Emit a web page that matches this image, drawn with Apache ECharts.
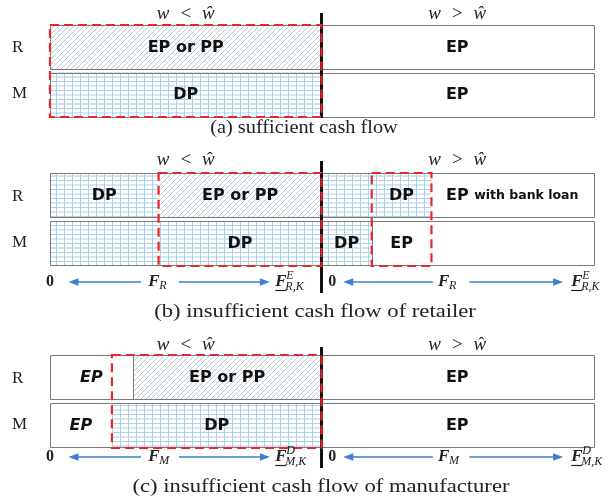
<!DOCTYPE html>
<html>
<head>
<meta charset="utf-8">
<script src="https://cdn.jsdelivr.net/npm/echarts@6/dist/echarts.min.js"></script>
<style>
  html, body { margin: 0; padding: 0; background: #ffffff; }
  #chart { width: 610px; height: 498px; }
</style>
</head>
<body>
<div id="chart"></div>
<script>
// Rows of every panel, listed bottom to top on the category axis
const rowNames = ['M', 'R'];
// Relation shown above each half of the w axis
const halfHeadings = ['<', '>'];
const captions = [
  '(a) sufficient cash flow',
  '(b) insufficient cash flow of retailer',
  '(c) insufficient cash flow of manufacturer'
];

// Strategy segments: [row, from, to, fill, label]
// 0..1 is the w < ŵ half, 1..2 the w > ŵ half
const segmentsA = [
  ['R', 0, 1, 'hatch', 'EP or PP'],
  ['M', 0, 1, 'grid', 'DP'],
  ['R', 1, 2, 'plain', 'EP'],
  ['M', 1, 2, 'plain', 'EP']
];
const segmentsB = [
  ['R', 0, 0.4, 'grid', 'DP'],
  ['R', 0.4, 1, 'hatch', 'EP or PP'],
  ['R', 1, 1.185, 'grid', ''],
  ['R', 1.185, 1.405, 'grid', 'DP'],
  ['R', 1.405, 2, 'plain', 'EP|with bank loan'],
  ['M', 0, 0.4, 'grid', ''],
  ['M', 0.4, 1, 'grid', 'DP'],
  ['M', 1, 1.185, 'grid', 'DP'],
  ['M', 1.185, 1.405, 'plain', 'EP'],
  ['M', 1.405, 2, 'plain', '']
];
const segmentsC = [
  ['R', 0, 0.305, 'plain', 'EP'],
  ['R', 0.305, 1, 'hatch', 'EP or PP'],
  ['R', 1, 2, 'plain', 'EP'],
  ['M', 0, 0.228, 'plain', 'EP'],
  ['M', 0.228, 1, 'grid', 'DP'],
  ['M', 1, 2, 'plain', 'EP']
];
// Segments whose label is set in oblique type
const obliqueC = [0, 3];

// Regions framed by the red dashed outline: [from, to]
const dashedA = [[0, 1]];
const dashedB = [[0.4, 1], [1.185, 1.405]];
const dashedC = [[0.228, 1]];

// Solid separators inside a row: [row, at]
const dividersB = [['M', 1.185]];
const dividersC = [['R', 0.305]];

// Threshold symbols under panels (b) and (c): [subscript, superscript]
const scaleB = ['R', 'E'];
const scaleC = ['M', 'D'];

// ---- layout and styling ----
const GAP = 1.5;
const SERIF = '"Liberation Serif", "DejaVu Serif", serif';
const SANS = '"DejaVu Sans", "Liberation Sans", sans-serif';
const RED = '#e8262c';
const BLUE = '#3d7fd2';
const GRAY = '#7a7a7a';

const panels = [
  { segments: segmentsA, dashed: dashedA, dividers: [], scale: null, oblique: [],
    top: 25, height: 92, lineUp: 12, lineDown: 1, headingDy: -11,
    captionX: 304, captionY: 128, captionStretch: 1.07 },
  { segments: segmentsB, dashed: dashedB, dividers: dividersB, scale: scaleB, oblique: [],
    top: 173, height: 93, lineUp: 12, lineDown: 27, headingDy: -13, scaleDy: 16,
    captionX: 315, captionY: 312, captionStretch: 1.19 },
  { segments: segmentsC, dashed: dashedC, dividers: dividersC, scale: scaleC, oblique: obliqueC,
    top: 355, height: 93, lineUp: 8, lineDown: 20, headingDy: -10, scaleDy: 9,
    captionX: 321, captionY: 487, captionStretch: 1.19 }
];

// Placement of the scale annotation as fractions of each half
const scaleLayout = [
  { zero: 0.0, head1: 0.068, tail1: 0.335, f: 0.395, tail2: 0.475, head2: 0.81, end: 0.83 },
  { zero: 0.04, head1: 0.08, tail1: 0.41, f: 0.462, tail2: 0.545, head2: 0.89, end: 0.92 }
];

function makePattern(kind) {
  const c = document.createElement('canvas');
  if (kind === 'hatch') {
    c.width = 5; c.height = 5;
    const g = c.getContext('2d');
    g.fillStyle = '#ffffff'; g.fillRect(0, 0, 5, 5);
    g.strokeStyle = '#b3c5d1'; g.lineWidth = 0.9;
    g.beginPath();
    g.moveTo(-1, 6); g.lineTo(6, -1);
    g.moveTo(-6, 6); g.lineTo(1, -1);
    g.moveTo(4, 6); g.lineTo(11, -1);
    g.stroke();
  } else {
    c.width = 8; c.height = 9;
    const g = c.getContext('2d');
    g.fillStyle = '#ffffff'; g.fillRect(0, 0, 8, 9);
    g.fillStyle = '#a9d0e6';
    g.fillRect(0, 0, 8, 1);
    g.fillRect(0, 4.5, 8, 1);
    g.fillRect(0, 0, 1, 9);
  }
  return { image: c, repeat: 'repeat' };
}
const fills = { hatch: makePattern('hatch'), grid: makePattern('grid'), plain: '#ffffff' };

// Rectangle of one row between two x values, leaving a small gap between rows
function bandRect(api, x0, x1, row) {
  const p0 = api.coord([x0, row]);
  const p1 = api.coord([x1, row]);
  const band = api.size([0, 1])[1];
  let top = p0[1] - band / 2, bottom = p0[1] + band / 2;
  if (row === 1) bottom -= GAP; else top += GAP;
  return { x: p0[0], y: top, width: p1[0] - p0[0], height: bottom - top };
}
function panelTopBottom(api) {
  const band = api.size([0, 1])[1];
  return [api.coord([0, 1])[1] - band / 2, api.coord([0, 0])[1] + band / 2];
}

const grids = [], xAxes = [], yAxes = [], series = [];

panels.forEach((p, pi) => {
  grids.push({ left: 50, right: 17, top: p.top, height: p.height });
  xAxes.push({ type: 'value', gridIndex: pi, min: 0, max: 2, show: false });
  yAxes.push({
    type: 'category', gridIndex: pi, data: rowNames,
    axisLine: { show: false }, axisTick: { show: false }, splitLine: { show: false },
    axisLabel: { show: true, align: 'left', margin: 38, fontFamily: SERIF, fontSize: 17, color: '#222' }
  });
  const base = { type: 'custom', xAxisIndex: pi, yAxisIndex: pi, silent: true, animation: false };

  // pattern fills
  series.push(Object.assign({}, base, {
    z: 1,
    encode: { x: [0, 1], y: 2 },
    data: p.segments.map(s => [s[1], s[2], rowNames.indexOf(s[0])]),
    renderItem: (params, api) => {
      const seg = p.segments[params.dataIndex];
      return { type: 'rect', shape: bandRect(api, api.value(0), api.value(1), api.value(2)),
               style: { fill: fills[seg[3]], stroke: null } };
    }
  }));

  // row outlines for each half
  const boxes = [];
  rowNames.forEach((r, ri) => { boxes.push([0, 1, ri]); boxes.push([1, 2, ri]); });
  series.push(Object.assign({}, base, {
    z: 2,
    encode: { x: [0, 1], y: 2 },
    data: boxes,
    renderItem: (params, api) => {
      const r = bandRect(api, api.value(0), api.value(1), api.value(2));
      r.x = Math.round(r.x) + 0.5; r.y = Math.round(r.y) + 0.5;
      r.width = Math.round(r.width); r.height = Math.round(r.height) - 1;
      return { type: 'rect', shape: r, style: { fill: null, stroke: GRAY, lineWidth: 1 } };
    }
  }));

  // solid separators
  if (p.dividers.length) {
    series.push(Object.assign({}, base, {
      z: 3,
      encode: { x: 0, y: 1 },
      data: p.dividers.map(d => [d[1], rowNames.indexOf(d[0])]),
      renderItem: (params, api) => {
        const r = bandRect(api, api.value(0), api.value(0), api.value(1));
        const x = Math.round(r.x) + 0.5;
        return { type: 'line', shape: { x1: x, y1: r.y, x2: x, y2: r.y + r.height },
                 style: { stroke: GRAY, lineWidth: 1 } };
      }
    }));
  }

  // segment labels
  const labelled = p.segments.map((s, i) => [s, i]).filter(e => e[0][4]);
  series.push(Object.assign({}, base, {
    z: 4,
    encode: { x: [0, 1], y: 2 },
    data: labelled.map(e => [e[0][1], e[0][2], rowNames.indexOf(e[0][0])]),
    renderItem: (params, api) => {
      const [seg, idx] = labelled[params.dataIndex];
      const r = bandRect(api, api.value(0), api.value(1), api.value(2));
      const parts = seg[4].split('|');
      const style = {
        text: parts.length > 1 ? '{a|' + parts[0] + '} {b|' + parts[1] + '}' : parts[0],
        fontFamily: SANS, fontWeight: 'bold', fontSize: 16,
        fontStyle: p.oblique.indexOf(idx) >= 0 ? 'italic' : 'normal',
        fill: '#111', align: 'center', verticalAlign: 'middle'
      };
      if (parts.length > 1) {
        style.rich = {
          a: { fontFamily: SANS, fontWeight: 'bold', fontSize: 16, fill: '#111' },
          b: { fontFamily: SANS, fontWeight: 'bold', fontSize: 12.5, fill: '#111' }
        };
      }
      return { type: 'text', x: r.x + r.width / 2, y: r.y + r.height / 2 + 0.5, style: style };
    }
  }));

  // black divider between the two halves
  series.push(Object.assign({}, base, {
    z: 5,
    encode: { x: 0 },
    data: [[1]],
    renderItem: (params, api) => {
      const [t, b] = panelTopBottom(api);
      const x = api.coord([api.value(0), 0])[0];
      return { type: 'line', shape: { x1: x, y1: t - p.lineUp, x2: x, y2: b + p.lineDown },
               style: { stroke: '#111', lineWidth: 3 } };
    }
  }));

  // red dashed frames
  series.push(Object.assign({}, base, {
    z: 6,
    encode: { x: [0, 1] },
    data: p.dashed.map(d => [d[0], d[1]]),
    renderItem: (params, api) => {
      const [t, b] = panelTopBottom(api);
      const x0 = api.coord([api.value(0), 0])[0];
      const x1 = api.coord([api.value(1), 0])[0];
      return { type: 'rect', shape: { x: x0, y: t, width: x1 - x0, height: b - t },
               style: { fill: null, stroke: RED, lineWidth: 2.2, lineDash: [9, 5] } };
    }
  }));

  // half headings
  series.push(Object.assign({}, base, {
    z: 7,
    encode: { x: 0 },
    data: [[0.5], [1.5]],
    renderItem: (params, api) => {
      const [t] = panelTopBottom(api);
      const x = api.coord([api.value(0), 0])[0];
      return {
        type: 'text', x: x, y: t + p.headingDy,
        style: {
          text: '{w|w}{op|' + halfHeadings[params.dataIndex] + '}{w|ŵ}',
          align: 'center', verticalAlign: 'middle', fill: '#222',
          fontFamily: SERIF, fontSize: 18,
          rich: {
            w: { fontFamily: SERIF, fontStyle: 'italic', fontSize: 19, fill: '#222' },
            op: { fontFamily: SERIF, fontSize: 19, fill: '#222', padding: [0, 11, 0, 11] }
          }
        }
      };
    }
  }));

  // threshold scale under the rows
  if (p.scale) {
    series.push(Object.assign({}, base, {
      z: 8,
      encode: { x: [0, 1] },
      data: [[0, 1], [1, 2]],
      renderItem: (params, api) => {
        const L = scaleLayout[params.dataIndex];
        const h0 = api.value(0), h1 = api.value(1);
        const at = f => api.coord([h0 + f * (h1 - h0), 0])[0];
        const [, b] = panelTopBottom(api);
        const y = b + p.scaleDy;
        const txt = (x, yy, s, size, italic, bold, align) => ({
          type: 'text', x: x, y: yy,
          style: { text: s, fontFamily: SERIF, fontSize: size, fontStyle: italic ? 'italic' : 'normal',
                   fontWeight: bold ? 'bold' : 'normal', fill: '#222', align: align || 'left',
                   verticalAlign: 'middle' }
        });
        const arrow = (from, to) => {
          const dir = to > from ? 1 : -1;
          return [
            { type: 'line', shape: { x1: from, y1: y, x2: to - dir * 6, y2: y },
              style: { stroke: BLUE, lineWidth: 1.3 } },
            { type: 'polygon', shape: { points: [[to, y], [to - dir * 10, y - 3.8], [to - dir * 10, y + 3.8]] },
              style: { fill: BLUE } }
          ];
        };
        const fx = at(L.f), ex = at(L.end);
        const children = [
          txt(at(L.zero), y, '0', 16, false, true, 'center'),
          ...arrow(at(L.tail1), at(L.head1)),
          txt(fx - 9, y, 'F', 17, true, true),
          txt(fx + 2, y + 4, p.scale[0], 12, true, false),
          ...arrow(at(L.tail2), at(L.head2)),
          txt(ex, y, 'F', 17, true, true),
          { type: 'line', shape: { x1: ex, y1: y + 8.5, x2: ex + 11, y2: y + 8.5 },
            style: { stroke: '#222', lineWidth: 1.2 } },
          txt(ex + 11, y - 6, p.scale[1], 12, true, false),
          txt(ex + 10, y + 4.5, p.scale[0] + ',K', 12, true, false)
        ];
        return { type: 'group', children: children };
      }
    }));
  }
});

const chart = echarts.init(document.getElementById('chart'), null, { renderer: 'canvas' });
chart.setOption({
  animation: false,
  backgroundColor: '#ffffff',
  grid: grids,
  xAxis: xAxes,
  yAxis: yAxes,
  series: series,
  graphic: panels.map((p, i) => ({
    type: 'text', x: p.captionX, y: p.captionY, scaleX: p.captionStretch,
    style: { text: captions[i], fontFamily: SERIF, fontSize: 19, fill: '#222',
             align: 'center', verticalAlign: 'middle' }
  }))
});
</script>
</body>
</html>
